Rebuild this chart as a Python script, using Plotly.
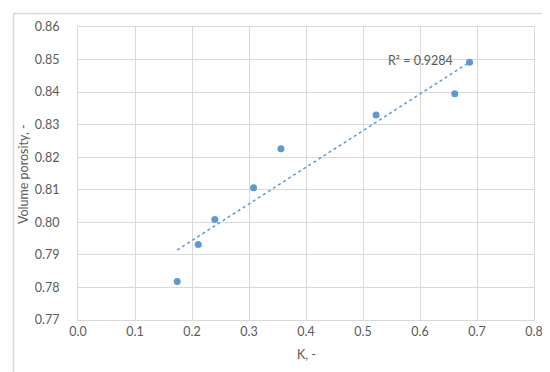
import numpy as np
import plotly.graph_objects as go

# Data
k_values = [0.174, 0.211, 0.240, 0.308, 0.356, 0.523, 0.661, 0.687]
porosity = [0.7818, 0.7932, 0.8009, 0.8106, 0.8226, 0.8330, 0.8395, 0.8492]
r2_label = "R² = 0.9284"
x_title = "K, -"
y_title = "Volume porosity, -"
x_ticks = [0.0, 0.1, 0.2, 0.3, 0.4, 0.5, 0.6, 0.7, 0.8]
y_ticks = [0.77, 0.78, 0.79, 0.80, 0.81, 0.82, 0.83, 0.84, 0.85, 0.86]

W, H = 550, 372
L, R, T, B = 70, 24, 19, 60
pw, ph = W - L - R, H - T - B

blue = "#5B9BD5"
grey_text = "#595959"
grid = "#D9D9D9"
font_family = "Lato, 'Open Sans', 'Liberation Sans', sans-serif"
fnt = dict(family=font_family, size=12.5, color=grey_text)

# linear trendline
slope, intercept = np.polyfit(k_values, porosity, 1)
tx = [min(k_values), max(k_values)]
ty = [slope * v + intercept for v in tx]

fig = go.Figure()
fig.add_trace(go.Scatter(x=tx, y=ty, mode="lines",
                         line=dict(color=blue, width=1.5, dash="dot"),
                         hoverinfo="skip", showlegend=False))
fig.add_trace(go.Scatter(x=k_values, y=porosity, mode="markers",
                         marker=dict(color=blue, size=7),
                         showlegend=False))

fig.add_annotation(x=max(k_values), y=max(porosity), xref="x", yref="y",
                   text=r2_label, showarrow=False, xanchor="right",
                   xshift=-15, yshift=2, font=fnt)

def px_to_paper_x(p):
    return (p - L) / pw

def px_to_paper_y(p):
    return (H - B - p) / ph

# axis titles
fig.add_annotation(x=0.5, y=px_to_paper_y(346), xref="paper", yref="paper",
                   text=x_title, showarrow=False, xanchor="center",
                   yanchor="middle", font=fnt)
fig.add_annotation(x=px_to_paper_x(15), y=px_to_paper_y(166), xref="paper",
                   yref="paper", text=y_title, showarrow=False, textangle=-90,
                   xanchor="center", yanchor="middle", font=fnt)

# outer frame
fig.add_shape(type="rect", xref="paper", yref="paper",
              x0=px_to_paper_x(5.5), x1=px_to_paper_x(545.5),
              y0=px_to_paper_y(365.5), y1=px_to_paper_y(5.5),
              line=dict(color="#D9D9D9", width=1.5), layer="above")

fig.update_xaxes(range=[0, 0.8], tickvals=x_ticks,
                 ticktext=[f"{v:.1f}" for v in x_ticks],
                 showgrid=True, gridcolor=grid, gridwidth=1,
                 showline=True, linecolor=grid, linewidth=1, mirror=True,
                 zeroline=False, ticks="", ticklabelstandoff=0,
                 tickfont=fnt)
fig.update_yaxes(range=[0.77, 0.86], tickvals=y_ticks,
                 ticktext=[f"{v:.2f}" for v in y_ticks],
                 showgrid=True, gridcolor=grid, gridwidth=1,
                 showline=True, linecolor=grid, linewidth=1, mirror=True,
                 zeroline=False, ticks="", ticklabelstandoff=15,
                 tickfont=fnt)

fig.update_layout(width=W, height=H,
                  margin=dict(l=L, r=R, t=T, b=B, autoexpand=False),
                  paper_bgcolor="white", plot_bgcolor="white",
                  showlegend=False)

fig.write_html("out.html")
